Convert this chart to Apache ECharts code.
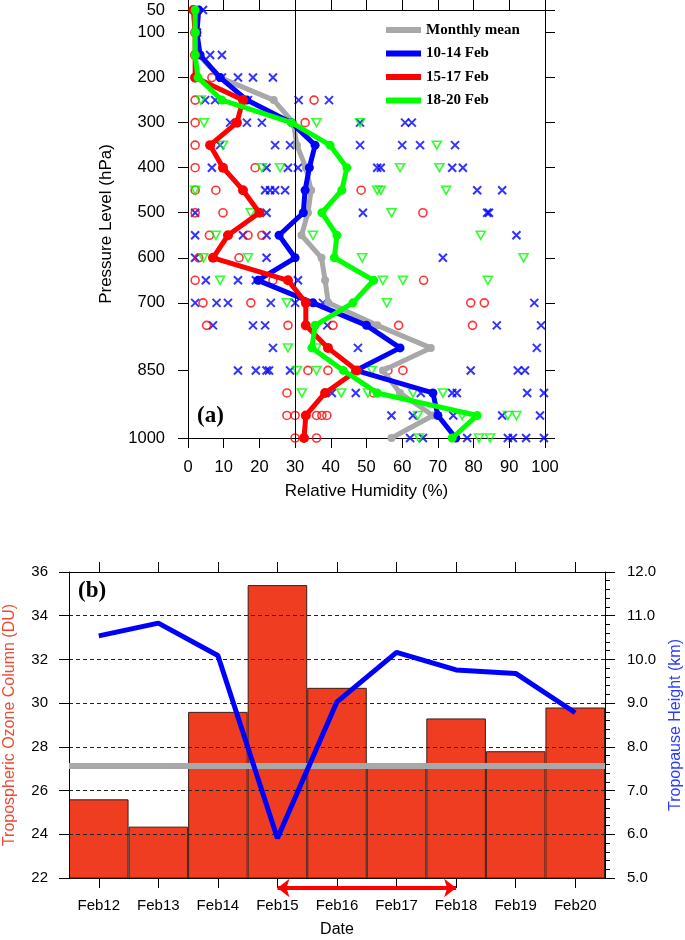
<!DOCTYPE html>
<html><head><meta charset="utf-8">
<script src="https://cdn.jsdelivr.net/npm/echarts@6/dist/echarts.min.js"></script>
<style>html,body{margin:0;padding:0;background:#fff}#c{width:685px;height:940px}</style>
</head><body><div id="c"></div>
<script>
// ---------- Panel (a) data ----------
const levels = [50,100,150,200,250,300,350,400,450,500,550,600,650,700,750,800,850,900,950,1000];
const pressureTicks = [50,100,200,300,400,500,600,700,850,1000];
const rhMonthlyMean = [2,2,3,9,24,29.5,30.5,33,34.5,33.6,31.8,37.4,38.4,39.3,53,68,54.6,59.4,68.6,57];
const rh10_14 = [3,2.5,3.4,9,16.5,29,35.6,34,32.8,32.3,25.5,30,19.6,35,50,59.4,47,68.6,70,75];
const rh15_17 = [1.5,2,2,2,15.4,13.7,6.2,9.8,15.4,20,11.2,7,28,33,33,39.2,47.3,38.4,33,32.5];
const rh18_20 = [2,2,2,2.8,9.5,29,39.8,44.5,43.1,37.5,41.7,41,52,46.2,35.6,34.7,43.5,53,81,74];
const obs10_14 = [
  [50,[4.2]],[100,[2.5]],[150,[6.2,9.5]],[200,[9.5,14,18.2,23.8]],
  [250,[4.8,7.6,16.8,31,39.5]],[300,[11.8,16.5,20.7,48.2,60.8,62.7]],
  [350,[9,24.4,28.6,48.2,60,65,74.8]],[400,[6.7,22,28,30.8,53,54,74,77]],
  [450,[21.6,23,24.4,27.2,81,88]],[500,[2,22,49,83.8,84.3]],[550,[2,15.4,22,92]],
  [600,[2,22,71.4]],[650,[5,14,19,30.8]],[700,[2,8,11.2,23.2,30,37.8,97]],
  [750,[7,18.2,21.6,39,86.5,98.9]],[800,[23.8,47.6,97.7]],
  [850,[14,19,22,22.7,28.6,79.2,92.4,94.4]],[900,[40.3,47,65.2,74,75.3,95,99.7]],
  [950,[57,63,74.3,88,98.6]],[1000,[62.2,65.8,78.2,89.6,91,94.7,99.7]]
];
const obs15_17 = [
  [150,[2]],[200,[2,6.7]],[250,[2,35.3]],[300,[2,32.8]],[350,[2]],[400,[2,18.8]],
  [450,[2,7.8,48.5]],[500,[2,9.8,65.8]],[550,[6,16.8,20.7]],[600,[3,14.3]],
  [650,[2,23.8,66]],[700,[4.2,17.6,79.2,83]],[750,[5.2,28,40.6,59,79.7]],
  [850,[33.6,39.2,56,60.2]],[900,[27.7,52]],[950,[27.7,30,36,37.5,38.9]],[1000,[30,36]]
];
const obs18_20 = [
  [250,[3.6]],[300,[4.5,36,48.2]],[350,[9.8,69.7]],[400,[20.7,25.8,59.4,70.4]],
  [450,[2,53,54,72.3]],[500,[17.6,57]],[550,[7.8,35,82]],[600,[4.3,16.8,48.8,94]],
  [650,[9,54.6,60.2,84]],[700,[27.7,55.7]],[800,[28,36]],[850,[30.5,36,51.5]],
  [900,[31.9,42.9,50.4,63,71.4]],[950,[64.4,76.8,89.6,92]],[1000,[64.7,81.5,84.6]]
];
const rhReference = 30;

// ---------- Panel (b) data ----------
const dates = ['Feb12','Feb13','Feb14','Feb15','Feb16','Feb17','Feb18','Feb19','Feb20'];
const ozoneColumn = [25.6,24.35,29.6,35.4,30.7,27.1,29.3,27.8,29.8];
const tropopauseHeight = [10.54,10.83,10.09,5.91,9.03,10.16,9.76,9.68,8.78];
const ozoneMonthlyMean = 27.12;
const arrowSpan = ['Feb15','Feb18'];

// ---------- build ----------
const SANS = "'Liberation Sans', Arial, Helvetica, sans-serif";
const SERIF = "'Liberation Serif', 'Times New Roman', serif";
const BLUE = '#0000ff', RED = '#ff0000', GREEN = '#00ff00', GRAY = '#a8a8a8';

const profile = arr => arr.map((v,i) => [v, levels[i]]);
const flat = obs => { const out = []; obs.forEach(([p, list]) => list.forEach(v => out.push([v, p]))); return out; };

const axLine = {show:true, onZero:false, lineStyle:{color:'#000', width:1}};
const tick = (extra) => Object.assign({show:true, inside:false, length:10, lineStyle:{color:'#000', width:1}}, extra||{});
const lbl = (extra) => Object.assign({show:true, color:'#000', fontFamily:SANS}, extra||{});

const crossPath = 'path://M0,0L10,10M10,0L0,10';
const triDown = 'path://M0,0L10,0L5,8.7Z';

const option = {
  animation:false,
  textStyle:{fontFamily:SANS},
  title:[
    {text:'(a)', left:192, top:400, textStyle:{fontFamily:SERIF, fontWeight:'bold', fontSize:23, color:'#000'}},
    {text:'(b)', left:73, top:575, textStyle:{fontFamily:SERIF, fontWeight:'bold', fontSize:23, color:'#000'}}
  ],
  legend:{
    left:381, top:17, orient:'vertical', itemWidth:35, itemHeight:6, itemGap:7.5,
    textStyle:{fontFamily:SERIF, fontWeight:'bold', fontSize:15, color:'#000', lineHeight:16},
    data:['Monthly mean','10-14 Feb','15-17 Feb','18-20 Feb'].map(n => ({name:n, icon:'rect'}))
  },
  grid:[
    {left:188, top:10, right:140, bottom:502, containLabel:false, outerBoundsMode:'none'},
    {left:69, top:572, right:80, bottom:62, containLabel:false, outerBoundsMode:'none'},
    {left:69, top:879, right:80, height:18, containLabel:false, outerBoundsMode:'none'}
  ],
  xAxis:[
    {gridIndex:0, type:'value', min:0, max:100, interval:10, position:'bottom',
     axisLine:axLine, axisTick:tick(), axisLabel:lbl({fontSize:16.5, margin:21, formatter:v => String(v)}), splitLine:{show:false},
     name:'Relative Humidity (%)', nameLocation:'middle', nameGap:45,
     nameTextStyle:{fontSize:17, color:'#000', fontFamily:SANS}},
    {gridIndex:0, type:'value', min:0, max:100, interval:10, position:'top',
     axisLine:axLine, axisTick:tick(), axisLabel:{show:false}, splitLine:{show:false}},
    {gridIndex:1, type:'category', data:dates, position:'bottom', boundaryGap:true,
     axisLine:axLine, axisTick:tick({alignWithLabel:true}), axisLabel:lbl({fontSize:15, margin:20}),
     splitLine:{show:false},
     name:'Date', nameLocation:'middle', nameGap:44, nameTextStyle:{fontSize:16, color:'#000', fontFamily:SANS}},
    {gridIndex:1, type:'category', data:dates, position:'top', boundaryGap:true,
     axisLine:axLine, axisTick:tick({alignWithLabel:true}), axisLabel:{show:false}, splitLine:{show:false}},
    {gridIndex:2, type:'category', data:dates, boundaryGap:true, show:false}
  ],
  yAxis:[
    {gridIndex:0, type:'value', inverse:true, min:50, max:1000, position:'left',
     axisLine:axLine, axisTick:tick({customValues:pressureTicks}),
     axisLabel:lbl({fontSize:16.5, margin:23, customValues:pressureTicks, formatter:v => String(v)}), splitLine:{show:false},
     name:'Pressure Level (hPa)', nameLocation:'middle', nameGap:73,
     nameTextStyle:{fontSize:17, color:'#000', fontFamily:SANS}},
    {gridIndex:0, type:'value', inverse:true, min:50, max:1000, position:'right',
     axisLine:axLine, axisTick:tick({customValues:pressureTicks}),
     axisLabel:{show:false, customValues:pressureTicks}, splitLine:{show:false}},
    {gridIndex:1, type:'value', min:22, max:36, interval:2, position:'left', z:3,
     axisLine:axLine, axisTick:tick(), axisLabel:lbl({fontSize:15, margin:21}),
     splitLine:{show:true, showMinLine:false, showMaxLine:false, lineStyle:{color:'#222', width:1, type:[4,3]}},
     name:'Tropospheric Ozone Column (DU)', nameLocation:'middle', nameGap:51,
     nameTextStyle:{fontSize:16, color:'#ee4a30', fontFamily:SANS}},
    {gridIndex:1, type:'value', min:5, max:12, interval:1, position:'right', z:3,
     axisLine:axLine, axisTick:tick(), minorTick:{show:true, splitNumber:5, length:5, lineStyle:{color:'#000'}},
     axisLabel:lbl({fontSize:15, margin:22, formatter:v => v.toFixed(1)}), splitLine:{show:false},
     name:'Tropopause Height (km)', nameLocation:'middle', nameGap:60,
     nameTextStyle:{fontSize:16, color:'#2a3cff', fontFamily:SANS}},
    {gridIndex:2, type:'value', min:0, max:1, show:false}
  ],
  series:[
    // individual soundings
    {type:'scatter', name:'obs 10-14', xAxisIndex:0, yAxisIndex:0, data:flat(obs10_14), symbol:crossPath, symbolSize:8,
     itemStyle:{color:'rgba(0,0,0,0)', borderColor:BLUE, borderWidth:2}, z:2, silent:true,
     markLine:{silent:true, symbol:'none', label:{show:false}, lineStyle:{color:'#000', width:1, type:'solid'},
               emphasis:{disabled:true}, data:[{xAxis:rhReference}]}},
    {type:'scatter', name:'obs 15-17', xAxisIndex:0, yAxisIndex:0, data:flat(obs15_17), symbol:'circle', symbolSize:8,
     itemStyle:{color:'rgba(0,0,0,0)', borderColor:RED, borderWidth:1.6}, z:2, silent:true},
    {type:'scatter', name:'obs 18-20', xAxisIndex:0, yAxisIndex:0, data:flat(obs18_20), symbol:triDown, symbolSize:[9,8],
     itemStyle:{color:'rgba(0,0,0,0)', borderColor:GREEN, borderWidth:1.6}, z:2, silent:true},
    // mean profiles
    {type:'line', name:'Monthly mean', xAxisIndex:0, yAxisIndex:0, data:profile(rhMonthlyMean),
     symbol:'circle', symbolSize:8, lineStyle:{color:GRAY, width:5}, itemStyle:{color:GRAY}, color:GRAY, z:3, silent:true},
    {type:'line', name:'10-14 Feb', xAxisIndex:0, yAxisIndex:0, data:profile(rh10_14),
     symbol:'circle', symbolSize:9, lineStyle:{color:BLUE, width:5}, itemStyle:{color:BLUE}, color:BLUE, z:4, silent:true},
    {type:'line', name:'15-17 Feb', xAxisIndex:0, yAxisIndex:0, data:profile(rh15_17),
     symbol:'circle', symbolSize:10, lineStyle:{color:RED, width:5}, itemStyle:{color:RED}, color:RED, z:5, silent:true},
    {type:'line', name:'18-20 Feb', xAxisIndex:0, yAxisIndex:0, data:profile(rh18_20),
     symbol:'circle', symbolSize:9, lineStyle:{color:GREEN, width:5}, itemStyle:{color:GREEN}, color:GREEN, z:6, silent:true},
    // panel (b)
    {type:'bar', name:'ozone', xAxisIndex:2, yAxisIndex:2, data:ozoneColumn, barCategoryGap:'0%',
     itemStyle:{color:'#ef3d22', borderColor:'#3a1e14', borderWidth:1}, z:2, silent:true,
     markLine:{silent:true, symbol:'none', label:{show:false}, emphasis:{disabled:true},
               lineStyle:{color:GRAY, width:6, type:'solid'}, data:[{yAxis:ozoneMonthlyMean}]}},
    {type:'line', name:'tropopause', xAxisIndex:2, yAxisIndex:3, data:tropopauseHeight,
     symbol:'none', lineStyle:{color:BLUE, width:5}, itemStyle:{color:BLUE}, z:5, silent:true},
    {type:'line', name:'arrow', xAxisIndex:4, yAxisIndex:4, data:arrowSpan.map(d => [d, 0.5]),
     symbol:'none', lineStyle:{opacity:0}, silent:true,
     markLine:{silent:true, symbol:['arrow','arrow'], symbolSize:[14,12], label:{show:false}, emphasis:{disabled:true},
               lineStyle:{color:RED, width:4, type:'solid'},
               data:[[{coord:[arrowSpan[0],0.5]},{coord:[arrowSpan[1],0.5]}]]}}
  ]
};
const chart = echarts.init(document.getElementById('c'));
chart.setOption(option);
</script>
</body></html>
